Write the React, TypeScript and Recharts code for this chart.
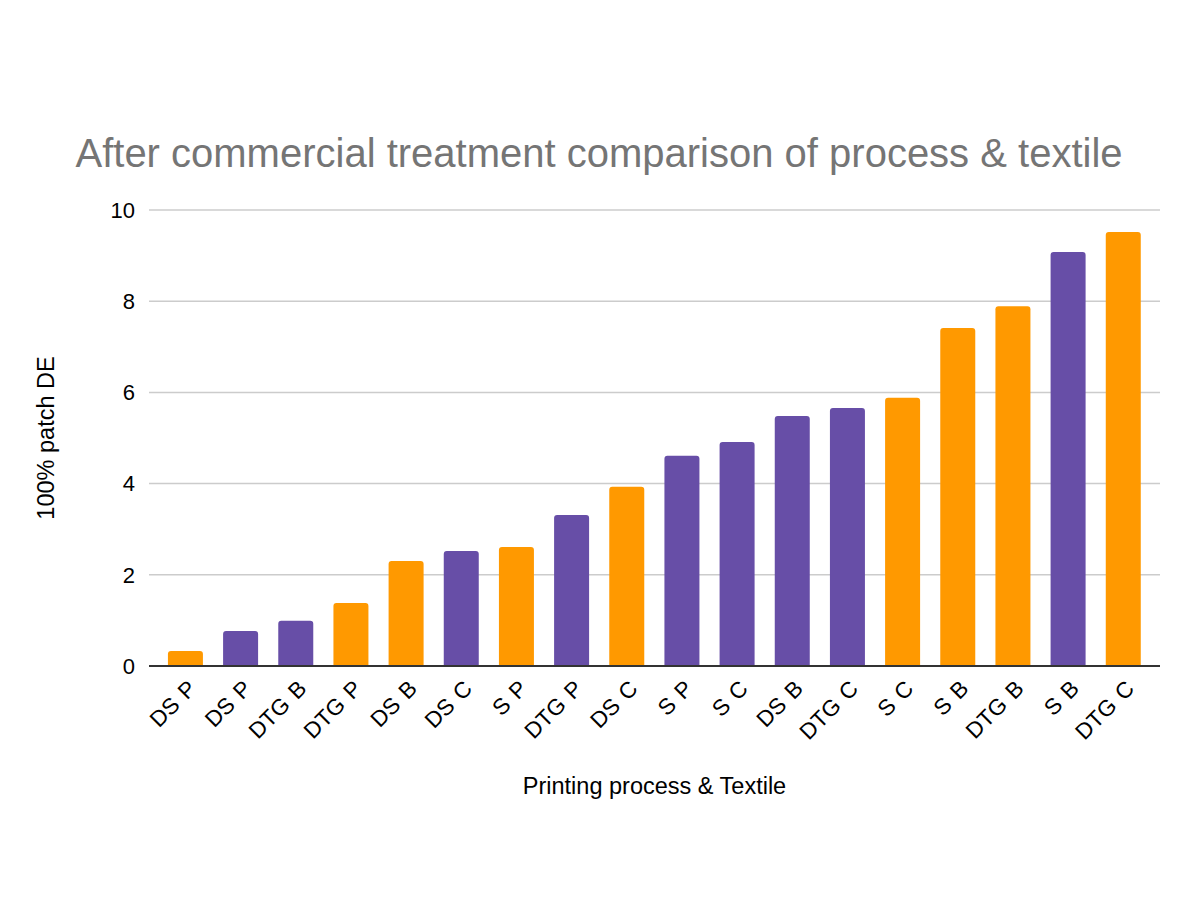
import { BarChart, Bar, XAxis, YAxis, CartesianGrid, Cell } from 'recharts';

// process + textile code for each bar, sorted by DE
const categories = ['DS P', 'DS P', 'DTG B', 'DTG P', 'DS B', 'DS C', 'S P', 'DTG P', 'DS C', 'S P', 'S C', 'DS B', 'DTG C', 'S C', 'S B', 'DTG B', 'S B', 'DTG C'];
const deValues = [0.33, 0.77, 0.99, 1.38, 2.3, 2.52, 2.61, 3.31, 3.93, 4.61, 4.91, 5.48, 5.66, 5.88, 7.41, 7.89, 9.08, 9.52];
// 'o' = orange group, 'p' = purple group
const groups = ['o', 'p', 'p', 'o', 'o', 'p', 'o', 'p', 'o', 'p', 'p', 'p', 'p', 'o', 'o', 'o', 'p', 'o'];
const yTicks = [0, 2, 4, 6, 8, 10];

const groupColors: Record<string, string> = { o: '#ff9900', p: '#674ea7' };

const data = categories.map((name, i) => ({ name, de: deValues[i], group: groups[i] }));

const FONT = 'Arial, "Liberation Sans", sans-serif';

const AngledTick = (props: any) => {
    const { x, y, payload } = props;
    return (
        <g transform={`translate(${x + 12},${y + 16})`}>
            <text textAnchor={'end'} transform={'rotate(-45)'} fontSize={22.5} fontFamily={FONT} fill={'#000'} wordSpacing={2}>
                {payload.value}
            </text>
        </g>
    );
};

const XTitle = (props: any) => {
    const { viewBox } = props;
    const cx = viewBox.x + viewBox.width / 2;
    return (
        <text x={cx} y={viewBox.y + 128} textAnchor={'middle'} fontSize={23.5} fontFamily={FONT} fill={'#000'}>
            Printing process &amp; Textile
        </text>
    );
};

const YTitle = (props: any) => {
    const { viewBox } = props;
    const cy = viewBox.y + viewBox.height / 2;
    return (
        <text x={54} y={cy} transform={`rotate(-90, 54, ${cy})`} textAnchor={'middle'} fontSize={23.5} fontFamily={FONT} fill={'#000'}>
            100% patch DE
        </text>
    );
};

export default function App() {
    return (
        <div style={{ position: 'absolute', left: 0, top: 0, width: 1198, height: 909, background: '#fff' }}>
            <div
                style={{
                    position: 'absolute',
                    left: 0,
                    width: 1198,
                    top: 130,
                    textAlign: 'center',
                    fontFamily: FONT,
                    fontSize: 40,
                    color: '#757575',
                    lineHeight: '46px',
                }}
            >
                After commercial treatment comparison of process &amp; textile
            </div>
            <BarChart
                width={1198}
                height={909}
                data={data}
                margin={{ top: 210, right: 38, bottom: 83, left: 0 }}
                barCategoryGap={'18%'}
            >
                <CartesianGrid vertical={false} stroke={'#cccccc'} strokeWidth={1.5} />
                <XAxis
                    dataKey={'name'}
                    interval={0}
                    height={160}
                    tick={<AngledTick />}
                    tickLine={false}
                    axisLine={{ stroke: '#333333', strokeWidth: 2 }}
                    padding={{ left: 9, right: 9 }}
                    label={<XTitle />}
                />
                <YAxis
                    width={149}
                    domain={[0, 10]}
                    ticks={yTicks}
                    axisLine={false}
                    tickLine={false}
                    tickMargin={8}
                    tick={{ fontSize: 22, fontFamily: FONT, fill: '#000' }}
                    label={<YTitle />}
                />
                <Bar dataKey={'de'} radius={[3, 3, 0, 0]} isAnimationActive={false}>
                    {data.map((d, i) => (
                        <Cell key={i} fill={groupColors[d.group]} />
                    ))}
                </Bar>
            </BarChart>
        </div>
    );
}
